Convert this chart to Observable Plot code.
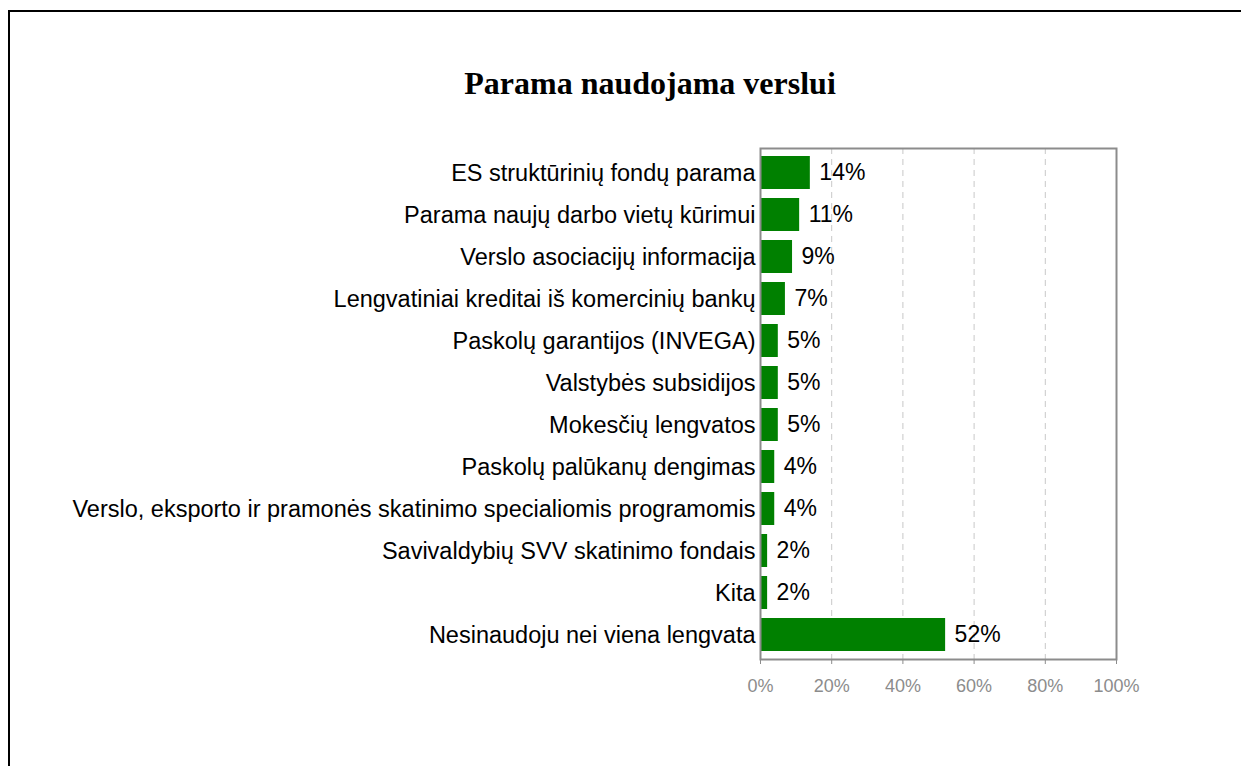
<!DOCTYPE html>
<html>
<head>
<meta charset="utf-8">
<script src="https://cdn.jsdelivr.net/npm/d3@7"></script>
<script src="https://cdn.jsdelivr.net/npm/@observablehq/plot@0.6"></script>
<style>
  html, body { margin: 0; padding: 0; background: #fff; }
  #wrap { position: relative; width: 1241px; height: 766px; overflow: hidden; }
  #border { position: absolute; left: 8px; top: 10px; width: 1300px; height: 900px;
            border-left: 2px solid #000; border-top: 2px solid #000; box-sizing: border-box; }
  #title { position: absolute; left: 0; width: 1300px; text-align: center; top: 67px;
           font-family: "Liberation Serif", "Times New Roman", serif; font-weight: bold;
           font-size: 32px; line-height: 1; color: #000; }
  #chart { position: absolute; left: 0; top: 0; }
</style>
</head>
<body>
<div id="wrap">
  <div id="border"></div>
  <div id="chart"></div>
  <div id="title">Parama naudojama verslui</div>
</div>
<script>
const categories = [
  "ES struktūrinių fondų parama",
  "Parama naujų darbo vietų kūrimui",
  "Verslo asociacijų informacija",
  "Lengvatiniai kreditai iš komercinių bankų",
  "Paskolų garantijos (INVEGA)",
  "Valstybės subsidijos",
  "Mokesčių lengvatos",
  "Paskolų palūkanų dengimas",
  "Verslo, eksporto ir pramonės skatinimo specialiomis programomis",
  "Savivaldybių SVV skatinimo fondais",
  "Kita",
  "Nesinaudoju nei viena lengvata"
];
const values = [14, 11, 9, 7, 5, 5, 5, 4, 4, 2, 2, 52];
const xTicks = [0, 20, 40, 60, 80, 100];
const gridTicks = [20, 40, 60, 80];

const data = categories.map((c, i) => ({category: c, value: values[i]}));

const chart = Plot.plot({
  width: 1241,
  height: 766,
  marginLeft: 760,
  marginRight: 125,
  marginTop: 148,
  marginBottom: 107,
  style: {fontFamily: "'Liberation Sans', Arial, sans-serif", background: "transparent"},
  x: {domain: [0, 100]},
  y: {domain: categories, paddingInner: 0.224, paddingOuter: 0.118},
  marks: [
    Plot.ruleX(gridTicks, {stroke: "#c8c8c8", strokeDasharray: "6,5", strokeWidth: 1}),
    Plot.barX(data, {x: "value", y: "category", fill: "#008000"}),
    Plot.frame({stroke: "#8c8c8c", strokeWidth: 2}),
    Plot.text(data, {x: "value", y: "category", text: d => d.value + "%", textAnchor: "start",
                     dx: 9, fontSize: 23, fill: "#000"}),
    Plot.axisX({ticks: xTicks, tickFormat: d => d + "%", tickSize: 5, tickPadding: 15,
                fontSize: 18, color: "#8c8c8c", stroke: "#8c8c8c", label: null}),
    Plot.axisY({tickSize: 0, tickPadding: 5, fontSize: 23.5, fill: "#000", label: null})
  ]
});
document.getElementById("chart").appendChild(chart);
</script>
</body>
</html>
